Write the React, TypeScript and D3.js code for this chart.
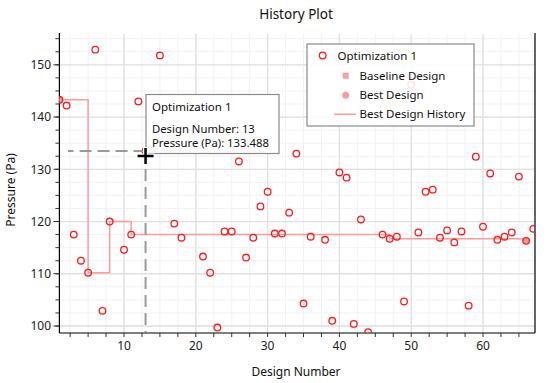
import React from "react";
import * as d3 from "d3";

const designNumbers = [1,2,3,4,5,6,7,8,10,11,12,13,15,17,18,21,22,23,24,25,26,27,28,29,30,31,32,33,34,35,36,38,39,40,41,42,43,44,46,47,48,49,50,51,52,53,54,55,56,57,58,59,60,61,62,63,64,65,66,67];
const pressures = [143.3,142.2,117.5,112.5,110.2,152.9,102.9,120.0,114.6,117.5,143.0,133.488,151.8,119.6,116.9,113.3,110.2,99.7,118.1,118.1,131.5,113.1,116.9,122.9,125.7,117.7,117.7,121.7,133.0,104.3,117.1,116.5,101.0,129.4,128.4,100.4,120.4,98.8,117.5,116.7,117.1,104.7,146.2,117.9,125.7,126.1,116.9,118.3,116.0,118.1,103.9,132.4,119.0,129.2,116.5,117.1,117.9,128.6,116.3,118.6];
const historyDesigns = [1,5,8,11,47,66];
const historyPressures = [143.3,110.2,120.0,117.5,116.7,116.3];
const baselineDesign = { design: 1, pressure: 143.3 };
const bestDesign = { design: 66, pressure: 116.3 };
const xTicks = [10,20,30,40,50,60];
const yTicks = [100,110,120,130,140,150];
const hoverDesign = { design: 13, pressure: 133.488 };

const W = 550, H = 383;
const L = 59.4, R = 535, T = 34, B = 333;
const FONT = "'Noto Sans', 'Open Sans', sans-serif";

export default function App() {
  const x = d3.scaleLinear().domain([1, 67.24]).range([L, R]);
  const y = d3.scaleLinear().domain([98.66, 155.9]).range([B, T]);
  const minorX = d3.range(2.5, 67.3, 2.5);
  const minorY = d3.range(100, 156, 2.5);
  const line = d3.line<number>()
    .x((d, i) => x(historyDesigns[i]))
    .y((d) => y(d))
    .curve(d3.curveStepAfter);
  const hx = x(hoverDesign.design), hy = y(hoverDesign.pressure);
  const red = "#ff1a1a";
  const pink = "#ff9a9a";
  return (
    <svg width={W} height={H} style={{ position: "absolute", left: 0, top: 0, background: "#fff" }} fontFamily={FONT}>
      <defs>
        <clipPath id="plotclip"><rect x={L} y={T} width={R - L} height={B - T} /></clipPath>
      </defs>
      <rect x={0} y={0} width={W} height={H} fill="#fff" />
      <text x={296} y={19} textAnchor="middle" fontSize={13.5} fill="#111">History Plot</text>
      {/* grid */}
      <g>
        {minorX.map((v) => (
          <line key={"mx" + v} x1={x(v)} x2={x(v)} y1={T} y2={B} stroke="#f1f1f1" strokeWidth={1} />
        ))}
        {minorY.map((v) => (
          <line key={"my" + v} x1={L} x2={R} y1={y(v)} y2={y(v)} stroke="#f1f1f1" strokeWidth={1} />
        ))}
        {xTicks.map((v) => (
          <line key={"gx" + v} x1={x(v)} x2={x(v)} y1={T} y2={B} stroke="#e0e0e0" strokeWidth={1.3} />
        ))}
        {yTicks.map((v) => (
          <line key={"gy" + v} x1={L} x2={R} y1={y(v)} y2={y(v)} stroke="#e0e0e0" strokeWidth={1.3} />
        ))}
      </g>
      {/* axes */}
      <line x1={L} x2={L} y1={T - 1} y2={B} stroke="#000" strokeWidth={1.2} />
      <line x1={R} x2={R} y1={T - 1} y2={B} stroke="#000" strokeWidth={1.2} />
      <line x1={L} x2={R} y1={B} y2={B} stroke="#000" strokeWidth={1.2} />
      {minorX.map((v) => (
        <line key={"tx" + v} x1={x(v)} x2={x(v)} y1={B} y2={B + 4} stroke="#333" strokeWidth={1} />
      ))}
      {minorY.map((v) => (
        <line key={"ty" + v} x1={L - 4} x2={L} y1={y(v)} y2={y(v)} stroke="#333" strokeWidth={1} />
      ))}
      {yTicks.map((v) => (
        <line key={"tyM" + v} x1={L - 6} x2={L} y1={y(v)} y2={y(v)} stroke="#333" strokeWidth={1} />
      ))}
      {xTicks.map((v) => (
        <text key={"lx" + v} x={x(v)} y={350} textAnchor="middle" fontSize={12} fill="#222">{v}</text>
      ))}
      {yTicks.map((v) => (
        <text key={"ly" + v} x={51} y={y(v) + 4.3} textAnchor="end" fontSize={12} fill="#222">{v}</text>
      ))}
      <text x={296} y={376} textAnchor="middle" fontSize={12} fill="#111">Design Number</text>
      <text transform={`translate(15,190) rotate(-90)`} textAnchor="middle" fontSize={12} fill="#111">Pressure (Pa)</text>
      {/* data */}
      <g clipPath="url(#plotclip)">
        <path d={line(historyPressures) || ""} fill="none" stroke={pink} strokeWidth={1.5} />
        <rect x={x(baselineDesign.design) - 3} y={y(baselineDesign.pressure) - 3} width={6} height={6} fill={pink} />
        <circle cx={x(bestDesign.design)} cy={y(bestDesign.pressure)} r={3.5} fill={pink} />
        {designNumbers.map((d, i) => (
          <circle key={"p" + d} cx={x(d)} cy={y(pressures[i])} r={3.3} fill="none" stroke={red} strokeWidth={1.3} />
        ))}
      </g>
      {/* legend */}
      <g>
        <rect x={307} y={44} width={167} height={82} fill="#fff" fillOpacity={0.88} stroke="#8a8a8a" strokeWidth={1.2} />
        <circle cx={322.7} cy={55.5} r={3.3} fill="none" stroke={red} strokeWidth={1.3} />
        <text x={337.5} y={59.5} fontSize={11.5} fill="#111">Optimization 1</text>
        <rect x={342.7} y={72.7} width={6} height={6} fill={pink} />
        <text x={359.5} y={79.5} fontSize={11.5} fill="#111">Baseline Design</text>
        <circle cx={345.7} cy={95.3} r={3.5} fill={pink} />
        <text x={359.5} y={99.3} fontSize={11.5} fill="#111">Best Design</text>
        <line x1={334} x2={356} y1={114.3} y2={114.3} stroke={pink} strokeWidth={1.5} />
        <text x={359.5} y={118.3} fontSize={11.5} fill="#111">Best Design History</text>
      </g>
      {/* hover */}
      <line x1={hx} x2={68} y1={hy} y2={hy} stroke="#9a9a9a" strokeWidth={2} strokeDasharray="12,6" />
      <line x1={hx} x2={hx} y1={hy} y2={B - 1} stroke="#9a9a9a" strokeWidth={2} strokeDasharray="12,6" />
      <rect x={146} y={94.5} width={133} height={59} fill="#fff" stroke="#8a8a8a" strokeWidth={1.2} />
      <text x={152} y={110.5} fontSize={11.5} fill="#111">Optimization 1</text>
      <text x={152} y={133} fontSize={11.3} fill="#111">Design Number: 13</text>
      <text x={152} y={147} fontSize={11.3} fill="#111">Pressure (Pa): 133.488</text>
      <g transform={`translate(${hx},156)`}>
        <path d="M-9,0H9M0,-9V9" stroke="#fff" strokeWidth={5} />
        <path d="M-8,0H8M0,-8V8" stroke="#000" strokeWidth={2.5} />
      </g>
    </svg>
  );
}
